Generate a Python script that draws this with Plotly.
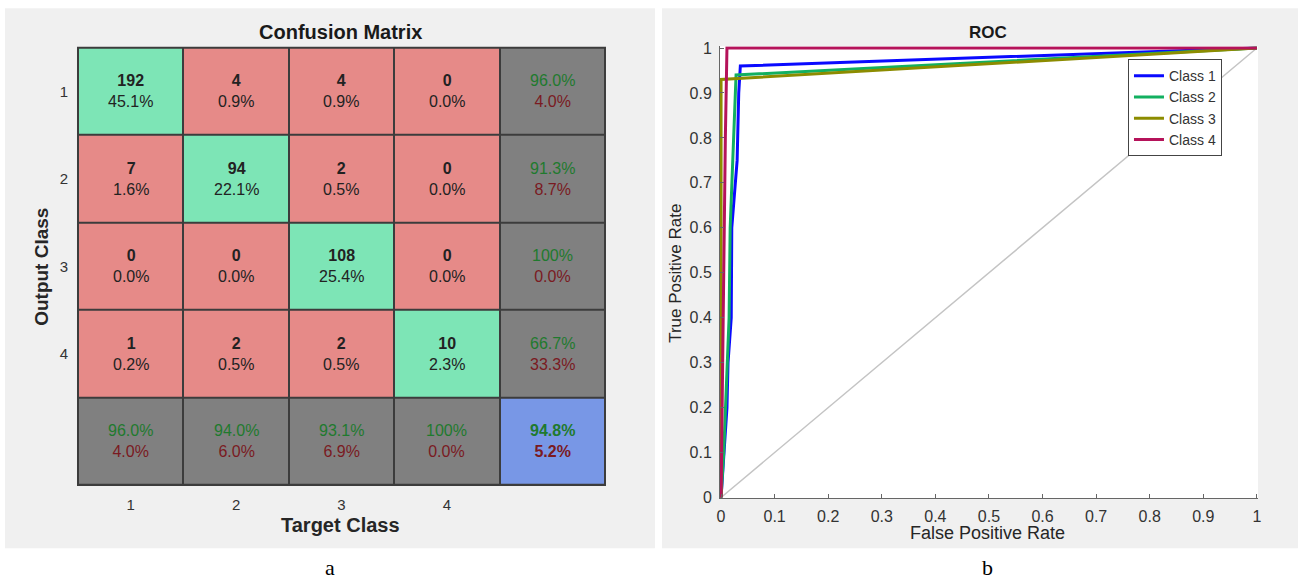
import plotly.graph_objects as go

# ---------------- data ----------------
classes = ["1", "2", "3", "4"]
counts = [[192, 4, 4, 0],
          [7, 94, 2, 0],
          [0, 0, 108, 0],
          [1, 2, 2, 10]]
cell_pct = [["45.1%", "0.9%", "0.9%", "0.0%"],
            ["1.6%", "22.1%", "0.5%", "0.0%"],
            ["0.0%", "0.0%", "25.4%", "0.0%"],
            ["0.2%", "0.5%", "0.5%", "2.3%"]]
row_correct = ["96.0%", "91.3%", "100%", "66.7%"]
row_wrong = ["4.0%", "8.7%", "0.0%", "33.3%"]
col_correct = ["96.0%", "94.0%", "93.1%", "100%"]
col_wrong = ["4.0%", "6.0%", "6.9%", "0.0%"]
overall = ["94.8%", "5.2%"]

roc_names = ["Class 1", "Class 2", "Class 3", "Class 4"]
roc_fpr = [
    [0, 0.006, 0.011, 0.013, 0.019, 0.02, 0.03, 0.033, 0.036, 1],
    [0, 0.005, 0.01, 0.015, 0.017, 0.024, 0.028, 1],
    [0, 0, 1],
    [0, 0.003, 0.005, 0.008, 0.011, 1],
]
roc_tpr = [
    [0, 0.1, 0.2, 0.3, 0.4, 0.6, 0.75, 0.9, 0.96, 1],
    [0, 0.1, 0.25, 0.4, 0.6, 0.8, 0.94, 1],
    [0, 0.93, 1],
    [0, 0.3, 0.6, 0.8, 1, 1],
]
roc_colors = ["#0a0aff", "#12b060", "#8c8c00", "#b5135a"]
diag = [0, 1]

W, H = 1299, 581
FONT = "Arial, Liberation Sans, sans-serif"
SERIF = "Liberation Serif, Times New Roman, serif"

# empirical correction of the page photograph (observed = A*intended + B)
AX, BX = 0.9954, 3.0
AY, BY = 0.976, 5.7

def px(x):
    return ((x - BX) / AX) / W

def py(y):
    return 1 - ((y - BY) / AY) / H

GREEN, RED, GRAY, BLUE = "#7de5b6", "#e68a88", "#808080", "#7897e6"
TXT_G, TXT_R = "#1f7a2e", "#7a1a22"
CELL_FS = 16

# category codes for heatmap
n = len(classes)
z = []
for i in range(n + 1):
    row = []
    for j in range(n + 1):
        if i == n and j == n:
            row.append(3)
        elif i == n or j == n:
            row.append(2)
        elif i == j:
            row.append(0)
        else:
            row.append(1)
    z.append(row)

colorscale = [[0, GREEN], [0.25, GREEN], [0.25, RED], [0.5, RED],
              [0.5, GRAY], [0.75, GRAY], [0.75, BLUE], [1, BLUE]]

fig = go.Figure()
fig.add_trace(go.Heatmap(
    z=z, x=list(range(n + 1)), y=list(range(n + 1)),
    colorscale=colorscale, zmin=0, zmax=3, showscale=False,
    xgap=2, ygap=2, hoverinfo="skip", xaxis="x", yaxis="y"))

annotations = []
for i in range(n):
    for j in range(n):
        annotations.append(dict(
            x=j, y=i, xref="x", yref="y", showarrow=False,
            text=f"<b>{counts[i][j]}</b><br>{cell_pct[i][j]}",
            font=dict(family=FONT, size=CELL_FS, color="#222222")))
    annotations.append(dict(
        x=n, y=i, xref="x", yref="y", showarrow=False,
        text=f'<span style="color:{TXT_G}">{row_correct[i]}</span><br>'
             f'<span style="color:{TXT_R}">{row_wrong[i]}</span>',
        font=dict(family=FONT, size=CELL_FS)))
for j in range(n):
    annotations.append(dict(
        x=j, y=n, xref="x", yref="y", showarrow=False,
        text=f'<span style="color:{TXT_G}">{col_correct[j]}</span><br>'
             f'<span style="color:{TXT_R}">{col_wrong[j]}</span>',
        font=dict(family=FONT, size=CELL_FS)))
annotations.append(dict(
    x=n, y=n, xref="x", yref="y", showarrow=False,
    text=f'<b><span style="color:{TXT_G}">{overall[0]}</span><br>'
         f'<span style="color:{TXT_R}">{overall[1]}</span></b>',
    font=dict(family=FONT, size=CELL_FS)))

# ROC traces
fig.add_trace(go.Scatter(x=diag, y=diag, mode="lines",
                         line=dict(color="#c4c4c4", width=1.5),
                         showlegend=False, hoverinfo="skip",
                         xaxis="x2", yaxis="y2"))
for k in range(len(roc_names)):
    fig.add_trace(go.Scatter(x=roc_fpr[k], y=roc_tpr[k], mode="lines",
                             name=roc_names[k],
                             line=dict(color=roc_colors[k], width=3),
                             xaxis="x2", yaxis="y2"))


def lab(x, y, text, size, color="#262626", angle=0, family=FONT):
    return dict(x=px(x), y=py(y), xref="paper", yref="paper", showarrow=False,
                xanchor="center", yanchor="middle", text=text, textangle=angle,
                font=dict(family=family, size=size, color=color))


annotations += [
    lab(341, 31, "<b>Confusion Matrix</b>", 20, "#1a1a1a"),
    lab(341, 525, "<b>Target Class</b>", 20),
    lab(42, 266, "<b>Output Class</b>", 19, angle=-90),
    lab(988, 31, "<b>ROC</b>", 17, "#1a1a1a"),
    lab(988, 533, "False Positive Rate", 18),
    lab(676, 272, "True Positive Rate", 17, angle=-90),
    lab(330, 567, "a", 22, "#000000", family=SERIF),
    lab(988, 567, "b", 22, "#000000", family=SERIF),
]

shapes = [
    dict(type="rect", xref="paper", yref="paper", x0=px(5), x1=px(655),
         y0=py(548), y1=py(7), fillcolor="#f0f0f0", line=dict(width=0), layer="below"),
    dict(type="rect", xref="paper", yref="paper", x0=px(662), x1=px(1298),
         y0=py(548), y1=py(7), fillcolor="#f0f0f0", line=dict(width=0), layer="below"),
    dict(type="rect", xref="paper", yref="paper", x0=px(77), x1=px(606),
         y0=py(485.5), y1=py(45.5), fillcolor="#3c3c3c", line=dict(width=0), layer="below"),
    dict(type="rect", xref="paper", yref="paper", x0=px(720), x1=px(1258),
         y0=py(498), y1=py(45), fillcolor="#ffffff", line=dict(width=0), layer="below"),
]

tickfont = dict(family=FONT, size=15, color="#333333")
rocfont = dict(family=FONT, size=16, color="#333333")
fig.update_layout(
    width=W, height=H, margin=dict(l=0, r=0, t=0, b=0),
    paper_bgcolor="white", plot_bgcolor="rgba(0,0,0,0)",
    annotations=annotations, shapes=shapes,
    xaxis=dict(domain=[px(78), px(605)], range=[-0.5, n + 0.5],
               tickmode="array", tickvals=list(range(n)), ticktext=classes,
               showgrid=False, zeroline=False, showline=False, ticks="",
               tickfont=tickfont, anchor="y", ticklabelstandoff=9),
    yaxis=dict(domain=[py(484.5), py(46.5)], range=[n + 0.5, -0.5],
               tickmode="array", tickvals=list(range(n)), ticktext=classes,
               showgrid=False, zeroline=False, showline=False, ticks="",
               tickfont=tickfont, anchor="x", ticklabelstandoff=9),
    xaxis2=dict(domain=[px(720), px(1258)], range=[-0.002, 1.002], dtick=0.1,
                tick0=0, showgrid=False, zeroline=False, showline=True,
                linecolor="#666666", linewidth=1, ticks="inside", ticklen=4,
                tickcolor="#666666", tickfont=rocfont, anchor="y2",
                ticklabelstandoff=3),
    yaxis2=dict(domain=[py(498), py(45)], range=[-0.002, 1.004], dtick=0.1,
                tick0=0, showgrid=False, zeroline=False, showline=True,
                linecolor="#666666", linewidth=1, ticks="inside", ticklen=4,
                tickcolor="#666666", tickfont=rocfont, anchor="x2",
                ticklabelstandoff=4),
    legend=dict(x=px(1128), y=py(58), xanchor="left", yanchor="top",
                bgcolor="white", bordercolor="#444444", borderwidth=1,
                font=dict(family=FONT, size=14, color="#333333"),
                tracegroupgap=0, itemwidth=30),
    showlegend=True,
)

POST = (
    "var s=document.createElement('style');"
    "s.textContent='html,body{margin:0!important;padding:0!important;overflow:hidden!important;}';"
    "document.head.appendChild(s);"
)

fig.write_html(
    "out.html",
    config={"displayModeBar": False, "responsive": False},
    post_script=POST,
)
